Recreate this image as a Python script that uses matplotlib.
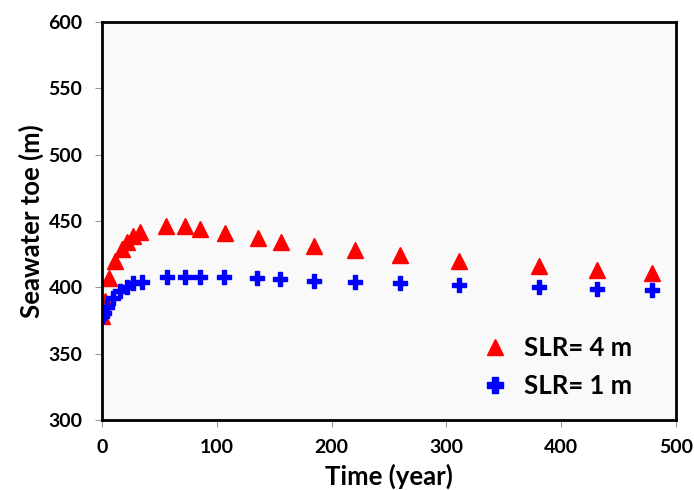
import matplotlib
matplotlib.use("Agg")
import matplotlib.pyplot as plt

t_slr4 = [0, 3, 6, 11, 17, 22, 27, 33, 56, 72, 85, 107, 136, 156, 185, 220, 260, 311, 381, 431, 479]
v_slr4 = [378, 390, 407, 420, 429, 434, 439, 442, 446, 446, 444, 441, 437, 434, 431, 428, 424, 420, 416, 413, 411]

t_slr1 = [0, 2, 4, 10, 16, 22, 27, 35, 57, 72, 85, 106, 135, 155, 185, 220, 260, 311, 381, 431, 479]
v_slr1 = [378, 381, 385, 392, 397, 400, 403, 404, 408, 408, 408, 408, 407, 406, 405, 404, 403, 402, 400, 399, 398]

xticks = [0, 100, 200, 300, 400, 500]
yticks = [300, 350, 400, 450, 500, 550, 600]

plt.rcParams['font.family'] = ['Lato', 'DejaVu Sans']
fig = plt.figure(figsize=(6.94, 4.90), dpi=100)
ax = fig.add_axes([0.147, 0.143, 0.827, 0.812])
ax.set_facecolor('#f9f9f9')

ax.plot(t_slr4, v_slr4, linestyle='none', marker='^', markersize=11, color='#ff0000', label='SLR= 4 m')
ax.plot(t_slr1, v_slr1, linestyle='none', marker='P', markersize=10.5, color='#0000ff', label='SLR= 1 m')

ax.set_xlim(0, 500)
ax.set_ylim(300, 600)
ax.set_xticks(xticks)
ax.set_yticks(yticks)
ax.tick_params(axis='both', labelsize=14, direction='out', length=5, color='#999999', pad=9)
for lab in ax.get_xticklabels() + ax.get_yticklabels():
    lab.set_fontweight('bold')
for s in ax.spines.values():
    s.set_linewidth(2)
    s.set_color('black')

ax.set_xlabel('Time (year)', fontsize=18.5, fontweight='bold', labelpad=5)
ax.set_ylabel('Seawater toe (m)', fontsize=18.5, fontweight='bold', labelpad=3)

leg = ax.legend(loc='lower right', frameon=False, prop={'size': 18.5, 'weight': 'bold'},
                handletextpad=0.3, borderaxespad=0, borderpad=0, labelspacing=0.55,
                handlelength=1.6, markerscale=1.1,
                bbox_to_anchor=(0.923, 0.055))

fig.savefig('out.png', dpi=100)
